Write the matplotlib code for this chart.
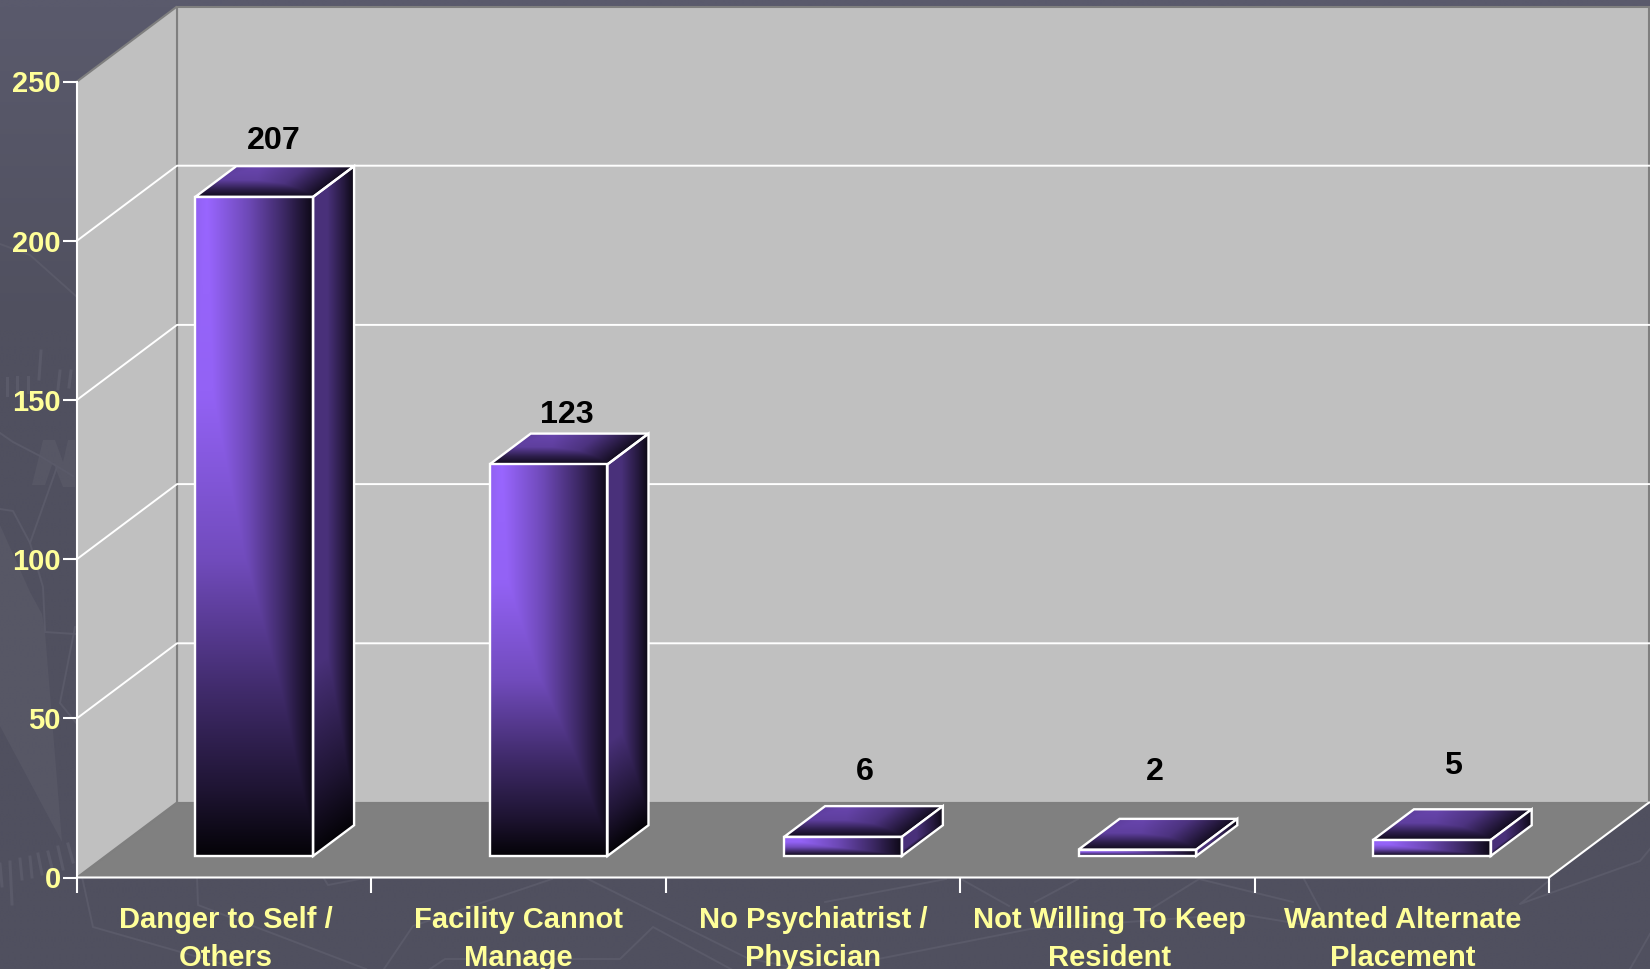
import matplotlib
matplotlib.use("Agg")
import matplotlib.pyplot as plt
import numpy as np
from matplotlib.patches import Polygon

plt.rcParams['font.family'] = ['Liberation Sans', 'DejaVu Sans']

categories = ["Danger to Self /\nOthers", "Facility Cannot\nManage",
              "No Psychiatrist /\nPhysician", "Not Willing To Keep\nResident",
              "Wanted Alternate\nPlacement"]
values = [207, 123, 6, 2, 5]
y_ticks = [0, 50, 100, 150, 200, 250]

# label nudges in pixels, from the front face centre/top of each bar
label_dx = [19, 18, 21, 17, 20]
label_dy = [60, 54, 69, 82, 79]

# small sideways nudges for the two-line category labels, in pixels
cat_dx = [1.5, 0, 0, 2, 1]

W, H = 1650, 970
X0, Y0 = 77, 878.5        # pixel position of the front-left corner
CAT_PX = 294.4            # pixels per category
VAL_PX = 3.184            # pixels per value unit
DEPTH_X = 100 / CAT_PX    # wall depth, in data units
DEPTH_Y = 75 / VAL_PX
BAR_W = 0.4
BAR_SHIFT = 2 / CAT_PX
BAR_D0, BAR_D1 = 0.287, 0.697

WHITE = "#ffffff"
YELLOW = "#ffff99"
WALL = "#c0c0c0"
FLOOR = "#808080"
EDGE = "#7f7f7f"
PURPLE = np.array([0x99, 0x66, 0xff]) / 255
BG_LINE = "#5a5a69"
BG_TOP = np.array([0x5a, 0x5a, 0x6c]) / 255
BG_BOTTOM = np.array([0x50, 0x50, 0x5f]) / 255

# faint backdrop pattern, in pixels from the top-left
bg_lines = [
    [(0, 245), (30, 256), (77, 298)],
    [(0, 434), (13, 443), (40, 457), (73, 477)],
    [(0, 510), (13, 512), (30, 544), (43, 588), (45, 631)],
    [(30, 544), (57, 468)], [(45, 633), (75, 635)], [(60, 704), (75, 628)],
    [(60, 704), (77, 725)],
    [(82, 878), (93, 928), (240, 970)],
    [(197, 878), (198, 906), (366, 970)],
    [(323, 878), (328, 886), (370, 878)],
    [(384, 970), (413, 927), (552, 880)],
    [(430, 970), (445, 960), (620, 960), (653, 928), (740, 975)],
    [(584, 878), (747, 959), (800, 970)],
    [(825, 903), (946, 880)], [(961, 880), (1009, 907)],
    [(1035, 903), (1078, 880)],
    [(1151, 910), (1199, 880), (1293, 903)], [(1304, 880), (1320, 910)],
    [(1551, 880), (1520, 905), (1640, 862), (1650, 850)],
    [(780, 970), (878, 960), (1030, 930), (1240, 915), (1300, 925)],
    [(1650, 935), (1630, 970)],
]
bg_shapes = [
    [(0, 526), (30, 593), (42, 615), (45, 633), (62, 843), (0, 727)],
    [(32, 486), (43, 441), (55, 441), (63, 463), (68, 441), (75, 441), (75, 488),
     (63, 488), (53, 463), (45, 486)],
]
bg_dashes = [(0, 865, 2, 887), (10, 863, 12, 905), (20, 860, 22, 880), (30, 858, 32, 878),
             (38, 855, 42, 875), (48, 853, 53, 873), (58, 848, 63, 870), (68, 845, 73, 863),
             (7, 379, 7, 396), (17, 378, 17, 395), (28, 378, 28, 393), (41, 352, 39, 380),
             (60, 372, 58, 390), (71, 372, 69, 388)]

fig = plt.figure(figsize=(W / 100, H / 100), dpi=100)
ax = fig.add_axes([0, 0, 1, 1])
ax.set_xlim(-X0 / CAT_PX, (W - X0) / CAT_PX)
ax.set_ylim(-(H - Y0) / VAL_PX, Y0 / VAL_PX)
ax.axis("off")


def px(x, y):
    # pixel position to data coordinates
    return (x - X0) / CAT_PX, (Y0 - y) / VAL_PX


def project(x, y, d):
    return x + d * DEPTH_X, y + d * DEPTH_Y


def clipped_image(rgb, extent, poly, z):
    im = ax.imshow(rgb, origin="lower", extent=extent, aspect="auto",
                   interpolation="bilinear", zorder=z)
    patch = Polygon(poly, closed=True, transform=ax.transData, facecolor="none",
                    edgecolor=WHITE, linewidth=1.7, joinstyle="miter", zorder=z + 0.1)
    ax.add_patch(patch)
    im.set_clip_path(patch)


def fade(v):
    return np.interp(v, [0, 0.3, 0.55, 0.75, 0.9, 1], [1, 0.96, 0.74, 0.42, 0.2, 0.03])


def colour(level):
    return np.clip(level[..., None] * PURPLE, 0, 1)


def draw_bar(i, value, z):
    x0 = i + 0.5 + BAR_SHIFT - BAR_W / 2
    x1 = x0 + BAR_W
    fl, fb = project(x0, 0, BAR_D0)
    fr, _ = project(x1, 0, BAR_D0)
    fl -= 0.007 * DEPTH_X
    fr -= 0.007 * DEPTH_X
    ft = fb + value
    step_x = (BAR_D1 - BAR_D0) * DEPTH_X
    step_y = (BAR_D1 - BAR_D0) * DEPTH_Y

    # front face
    u, v = np.meshgrid(np.linspace(0, 1, 200), np.linspace(1, 0, 300))
    level = np.minimum(np.interp(u, [0, 0.1, 0.45, 0.75, 1], [0.95, 1, 0.72, 0.4, 0.09]), fade(v))
    clipped_image(colour(level), (fl, fr, fb, ft),
                  [(fl, fb), (fr, fb), (fr, ft), (fl, ft)], z + 0.3)

    # side face, sheared back into the chart
    xs, ys = np.meshgrid(np.linspace(0, 1, 100), np.linspace(0, 1, 400))
    ytot = value + step_y
    vv = 1 - (ys * ytot - xs * step_y) / value
    level = np.minimum(np.interp(xs, [0, 0.35, 0.75, 1], [0.48, 0.48, 0.25, 0.08]), fade(np.clip(vv, 0, 1)))
    clipped_image(colour(level), (fr, fr + step_x, fb, ft + step_y),
                  [(fr, fb), (fr + step_x, fb + step_y), (fr + step_x, ft + step_y), (fr, ft)], z + 0.2)

    # top face
    xs, ys = np.meshgrid(np.linspace(0, 1, 300), np.linspace(0, 1, 100))
    total = (fr - fl) + step_x
    uu = np.clip((xs * total - ys * step_x) / (fr - fl), 0, 1)
    level = np.minimum(np.interp(uu, [0, 0.2, 0.6, 1], [0.62, 0.68, 0.5, 0.12]),
                       np.interp(ys, [0, 0.25, 0.55, 1], [0.1, 0.3, 0.62, 0.68]))
    clipped_image(colour(level), (fl, fr + step_x, ft, ft + step_y),
                  [(fl, ft), (fr, ft), (fr + step_x, ft + step_y), (fl + step_x, ft + step_y)], z + 0.1)


# slide background
yy = np.clip(np.linspace(0, 1, 60) * 3, 0, 1)[:, None, None]
bg = BG_TOP + yy * (BG_BOTTOM - BG_TOP)
bg = np.repeat(bg, 4, axis=1)
ax.imshow(bg, origin="upper", extent=ax.get_xlim() + ax.get_ylim(),
          aspect="auto", interpolation="bilinear", zorder=0)

for pts in bg_shapes:
    ax.add_patch(Polygon([px(*p) for p in pts], closed=True, facecolor="#5a5a68",
                         edgecolor="none", alpha=0.7, zorder=0.5))
for pts in bg_lines:
    xy = np.array([px(*p) for p in pts])
    ax.plot(xy[:, 0], xy[:, 1], color=BG_LINE, lw=1.4, zorder=0.6)
for a, b, c, d in bg_dashes:
    p0, p1 = px(a, b), px(c, d)
    ax.plot([p0[0], p1[0]], [p0[1], p1[1]], color=BG_LINE, lw=2.2, zorder=0.6)

n = len(categories)
top = y_ticks[-1]

# walls and floor
ax.add_patch(Polygon([project(0, 0, 1), project(n, 0, 1), project(n, top, 1), project(0, top, 1)],
                     facecolor=WALL, edgecolor=EDGE, linewidth=1.5, zorder=1))
ax.add_patch(Polygon([(0, 0), project(0, 0, 1), project(0, top, 1), (0, top)],
                     facecolor=WALL, edgecolor="none", zorder=1))
ax.add_patch(Polygon([(0, 0), (n, 0), project(n, 0, 1), project(0, 0, 1)],
                     facecolor=FLOOR, edgecolor="none", zorder=1.1))

# wall edges
for a, b in [(project(0, 0, 1), project(0, top, 1)), ((0, top), project(0, top, 1)),
             (project(0, 0, 1), (0, 0)), (project(0, 0, 1), project(n, 0, 1))]:
    ax.plot([a[0], b[0]], [a[1], b[1]], color=EDGE, lw=1.5, zorder=1.2, solid_capstyle="butt")

# gridlines along side and back walls
for t in y_ticks[1:-1]:
    a, b, c = (0, t), project(0, t, 1), project(n, t, 1)
    ax.plot([a[0], b[0], c[0]], [a[1], b[1], c[1]], color=WHITE, lw=1.4, zorder=1.3)

# front axis lines and ticks
ax.plot([0, 0], [0, top], color=WHITE, lw=1.5, zorder=1.5)
a = project(n, 0, 1)
ax.plot([0, n, a[0]], [0, 0, a[1]], color=WHITE, lw=1.5, zorder=1.5, solid_joinstyle="miter")
tick_x = 14 / CAT_PX
tick_y = 15 / VAL_PX
for t in y_ticks:
    ax.plot([-tick_x, 0], [t, t], color=WHITE, lw=1.5, zorder=1.5, solid_capstyle="butt")
    ax.text(-16 / CAT_PX, t + 1 / VAL_PX, str(t), color=YELLOW, fontsize=21, fontweight="bold",
            ha="right", va="center_baseline", zorder=3)
for i in range(n + 1):
    ax.plot([i, i], [0, -tick_y], color=WHITE, lw=1.5, zorder=1.5, solid_capstyle="butt")

for i, (cat, val) in enumerate(zip(categories, values)):
    draw_bar(i, val, 2 + i)
    first, second = cat.split("\n")
    cx = i + 0.5 + cat_dx[i] / CAT_PX
    ax.text(cx, -38.5 / VAL_PX, first, color=YELLOW, fontsize=21, fontweight="bold",
            ha="center", va="center_baseline", zorder=8)
    ax.text(cx, -76.5 / VAL_PX, second, color=YELLOW, fontsize=21, fontweight="bold",
            ha="center", va="center_baseline", zorder=8)
    fx, fy = project(i + 0.5 + BAR_SHIFT, val, BAR_D0)
    ax.text(fx + label_dx[i] / CAT_PX, fy + label_dy[i] / VAL_PX, str(val), color="black",
            fontsize=23.2, fontweight="bold", ha="center", va="center_baseline", zorder=8)

ax.set_xlim(-X0 / CAT_PX, (W - X0) / CAT_PX)
ax.set_ylim(-(H - Y0) / VAL_PX, Y0 / VAL_PX)

fig.savefig("out.png", dpi=100)
